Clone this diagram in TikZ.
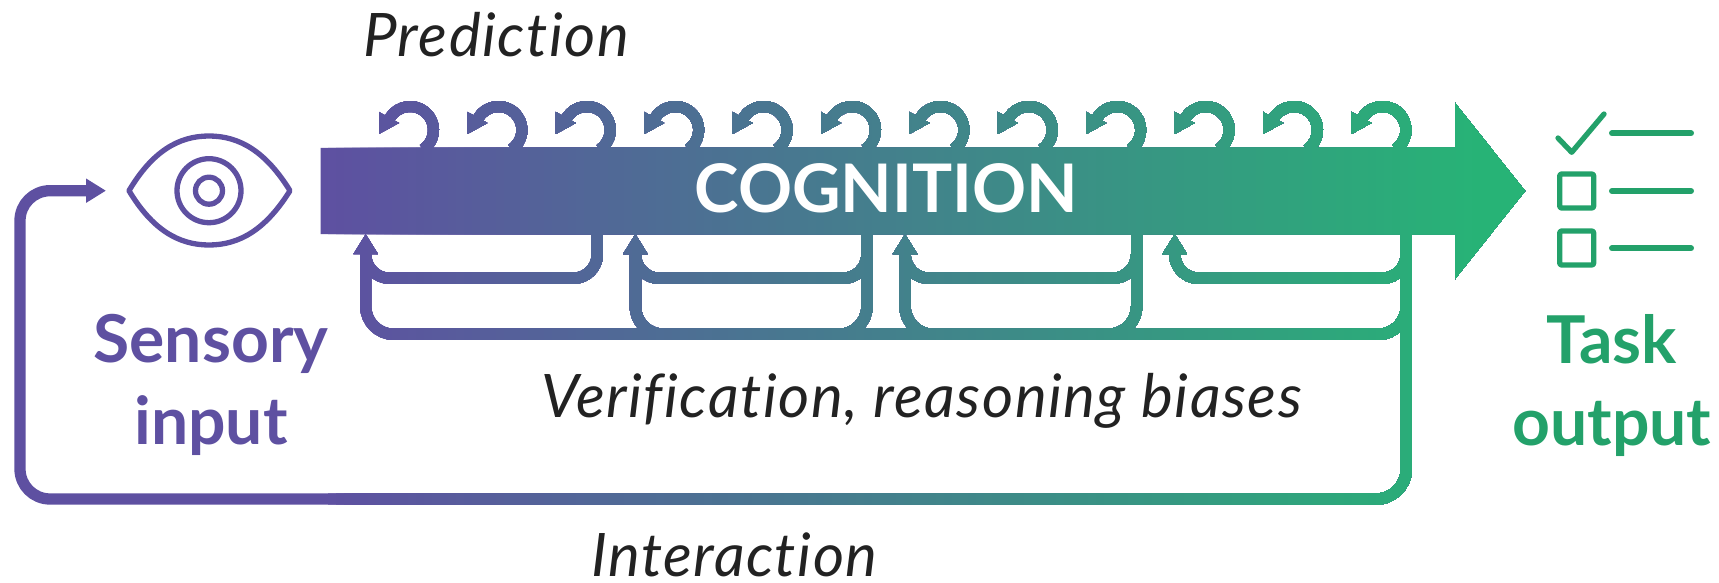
\documentclass[tikz,border=0pt]{standalone}
\usepackage{fontspec}
\setmainfont{Lato}[Ligatures=NoCommon]
\usetikzlibrary{arrows.meta, calc}
\definecolor{gradpurple}{HTML}{5E50A1}
\definecolor{gradgreen}{HTML}{27B376}
\definecolor{inktext}{HTML}{222222}
\tikzset{
  flow/.style={line width=11.3pt},
  flowup/.style={flow, -{Triangle[length=20pt, width=23pt]}},
  curl/.style={line width=11pt},
  thinline/.style={line width=5.3pt, line join=round},
  listrule/.style={line width=6pt, line cap=round, draw=gradgreen!90!black},
  caption/.style={text=inktext, font=\fontsize{60}{60}\selectfont\itshape\addfontfeature{LetterSpace=2.5}, inner sep=0},
  bigword/.style={font=\fontsize{66}{82}\selectfont\bfseries, align=center, inner sep=0}
}
\newcommand{\gradparts}{
  \fill (barnw) -- (headn) -- ($(headn)+(0,-45)$) -- (tip) -- ($(heads)+(0,45)$) -- (heads) -- (barsw) -- cycle;
  \foreach \i in {0,...,11} {
    \coordinate (curl\i) at (410+88.4*\i,130);
    \draw[curl] ($(curl\i)+(-55:23.5pt)$) arc[start angle=-55, end angle=149, radius=23.5pt];
    \fill ($(curl\i)+(-31,4)$) -- ($(curl\i)+(-31,-18)$) -- ($(curl\i)+(-11,-7)$) -- cycle;
  }
  \foreach \i in {0,1,2,3}
    \draw[flowup, rounded corners=24pt] (dn\i) |- ($(up\i)+(0,44.3)$) -- (up\i);
  \draw[flowup, rounded corners=28pt] (dn3) |- ($(up0)+(0,100.3)$) -- (up0);
  \foreach \i in {1,2}
    \draw[flow, rounded corners=28pt] ($(up\i)+(0,20)$) |- ($(up\i)+(60,100.3)$);
  \foreach \i in {1,2}
    \draw[flow, rounded corners=28pt] (dn\i) |- ($(dn\i)+(-60,100.3)$);
  \draw[flow, rounded corners=30pt, -{Triangle[length=20pt, width=23pt]}] (dn3) -- (cornerbr) -- (cornerbl) -- (cornertl) -- (feedin);
}

\begin{document}
\begin{tikzpicture}[x=1pt, y=-1pt]
  \useasboundingbox (0,0) rectangle (1719,583);
  \coordinate (barnw) at (320.7,148);
  \coordinate (barsw) at (320.7,234);
  \coordinate (headn) at (1455,148);
  \coordinate (heads) at (1455,234);
  \coordinate (tip) at (1525,191);
  \foreach \i in {0,1,2,3} {
    \coordinate (up\i) at (365.7+269.67*\i,234);
    \coordinate (dn\i) at (597.3+269.67*\i,234);
  }
  \coordinate (cornerbr) at (1406.3,499);
  \coordinate (cornerbl) at (20,499);
  \coordinate (cornertl) at (20,190.7);
  \coordinate (feedin) at (106,190.7);
  \begin{scope}[color=gradpurple]
    \gradparts
  \end{scope}
  \foreach \stripx [evaluate=\stripx as \stripmix using (\stripx-320)/11.6] in {328,336,...,1480} {
    \begin{scope}[color=gradgreen!\stripmix!gradpurple]
      \clip (\stripx,0) rectangle (1719,583);
      \gradparts
    \end{scope}
  }
  % eye
  \node[thinline, draw=gradpurple, circle, minimum size=64pt, inner sep=0] (iris) at (209,190.7) {};
  \node[thinline, draw=gradpurple, circle, minimum size=27pt, inner sep=0] (pupil) at (iris) {};
  \draw[thinline, draw=gradpurple] (129,190.7) .. controls (152,152) and (178,136) .. (209,136)
    .. controls (240,136) and (266,152) .. (290,190.7)
    .. controls (266,229) and (240,245) .. (209,245)
    .. controls (178,245) and (152,229) .. (129,190.7) -- cycle;
  % checklist
  \draw[thinline, draw=gradgreen!90!black, line cap=round] (1558,138) -- (1571.7,152.3) -- (1604,114);
  \node[thinline, draw=gradgreen!90!black, rounded corners=2pt, minimum size=34pt, inner sep=0] (boxone) at (1576.7,191) {};
  \node[thinline, draw=gradgreen!90!black, rounded corners=2pt, minimum size=34pt, inner sep=0] (boxtwo) at (1576.7,248) {};
  \draw[listrule] (1612,133.3) -- (1691,133.3);
  \draw[listrule] (1612,191) -- (1691,191);
  \draw[listrule] (1612,248.3) -- (1691,248.3);
  % labels
  \node[font=\fontsize{67}{67}\selectfont\bfseries, text=white, inner sep=0, anchor=base] (cognition) at (886.5,212.5) {COGNITION};
  \node[caption, anchor=base west] (prediction) at (363,57) {Prediction};
  \node[caption, anchor=base west] (verification) at (541,417) {Verification, reasoning biases};
  \node[caption, anchor=base west] (interaction) at (591,576) {Interaction};
  \node[bigword, text=gradpurple, anchor=north] (sensory) at (211,314) {Sensory\\input};
  \node[bigword, text=gradgreen!90!black, anchor=north] (task) at (1612,314) {Task\\output};
\end{tikzpicture}
\end{document}
